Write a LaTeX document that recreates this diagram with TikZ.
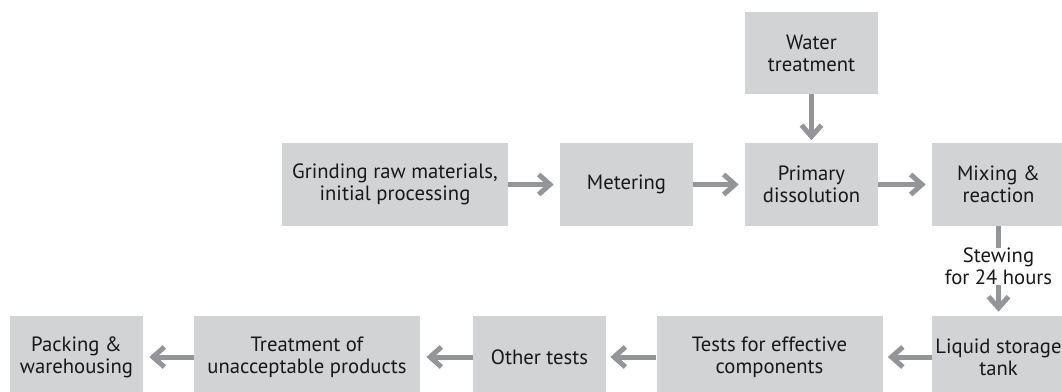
\documentclass[tikz,border=0pt]{standalone}
\usepackage{fontspec}
\setmainfont{PT Sans}
\usetikzlibrary{positioning,arrows.meta}
\definecolor{boxgray}{HTML}{D1D3D4}
\definecolor{arrowgray}{HTML}{939598}
\definecolor{textdark}{HTML}{1A1718}
\tikzset{>={Straight Barb[length=8.5pt,width=15pt]}}
\newcommand*{\lbl}{\fontsize{15.5}{16.5}\selectfont}

\begin{document}
\begin{tikzpicture}[x=0.75pt,y=-0.75pt,
  stagebox/.style={fill=boxgray,text=textdark,align=center,
    minimum height=61.5pt,inner sep=0pt,font=\lbl},
  narrowbox/.style={stagebox,minimum width=99.75pt},
  widebox/.style={stagebox,minimum width=169.5pt},
  flow/.style={->,draw=arrowgray,line width=3.75pt,shorten >=4.5pt}]
\useasboundingbox (0,0) rectangle (1062,392);
% top row
\node[narrowbox] (water) at (811.5,53) {Water\\treatment};
\node[widebox] (grind) at (395,184.5) {Grinding raw materials,\\initial processing};
\node[narrowbox] (meter) at (626.5,184.5) {Metering};
\node[narrowbox] (primary) at (811.5,184.5) {Primary\\dissolution};
\node[narrowbox] (mixing) at (998.5,184.5) {Mixing \&\\reaction};
% bottom row
\node[narrowbox] (liquid) at (998.5,357) {Liquid storage\\tank};
\node[widebox] (tests) at (769.5,357) {Tests for effective\\components};
\node[narrowbox] (other) at (539.5,357) {Other tests};
\node[widebox] (treat) at (307,357) {Treatment of\\unacceptable products};
\node[narrowbox] (packing) at (76.5,357) {Packing \&\\warehousing};
% connectors
\draw[flow,shorten >=2.25pt] (water) -- (primary);
\draw[flow] (grind) -- (meter);
\draw[flow] (meter) -- (primary);
\draw[flow] (primary) -- (mixing);
\draw[flow,shorten >=3pt] (mixing) -- node[pos=.45,fill=white,inner sep=0pt,
  text=textdark,align=center,font=\lbl] (stew) {Stewing\\for 24 hours} (liquid);
\draw[flow,shorten >=3.75pt] (liquid) -- (tests);
\draw[flow,shorten >=3pt] (tests) -- (other);
\draw[flow] (other) -- (treat);
\draw[flow] (treat) -- (packing);
\end{tikzpicture}
\end{document}
